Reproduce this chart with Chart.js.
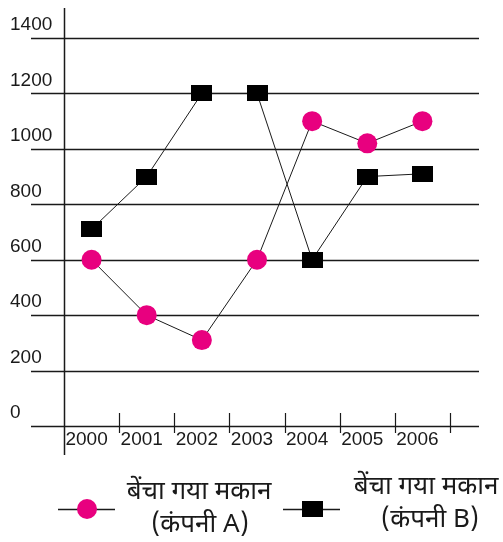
<!DOCTYPE html>
<html>
<head>
<meta charset="utf-8">
<script src="https://cdn.jsdelivr.net/npm/chart.js@4/dist/chart.umd.min.js"></script>
<style>
  html, body { margin: 0; padding: 0; background: #fff; }
  #wrap { width: 503px; height: 542px; }
</style>
</head>
<body>
<div id="wrap"><canvas id="myChart" width="503" height="542"></canvas></div>
<script>
const years = ['2000', '2001', '2002', '2003', '2004', '2005', '2006'];
const housesA = [600, 400, 310, 600, 1100, 1020, 1100];
const housesB = [710, 900, 1200, 1200, 600, 900, 910];
const labelA = ['बेंचा गया मकान', '(कंपनी A)'];
const labelB = ['बेंचा गया मकान', '(कंपनी B)'];
const yTicks = [0, 200, 400, 600, 800, 1000, 1200, 1400];

const PINK = 'rgb(232, 0, 127)';
const INK = '#1a1a1a';
const FONT = '"Liberation Sans", Arial, sans-serif';
const HINDI = '"Noto Sans Devanagari", "Noto Sans", "Lohit Devanagari", sans-serif';

// black marker for company B is a bit wider than tall
const boxMarker = document.createElement('canvas');
boxMarker.width = 21;
boxMarker.height = 16;
const bctx = boxMarker.getContext('2d');
bctx.fillStyle = '#000';
bctx.fillRect(0, 0, 21, 16);

// horizontal rules, axis line, year separators and the legend
const frame = {
    id: 'frame',
    beforeDatasetsDraw(chart) {
        const ctx = chart.ctx;
        const area = chart.chartArea;
        const x = chart.scales.x;
        const y = chart.scales.y;
        ctx.save();
        ctx.strokeStyle = INK;
        ctx.lineWidth = 1.5;
        yTicks.forEach(v => {
            const py = Math.round(y.getPixelForValue(v)) + 0.5;
            ctx.beginPath();
            ctx.moveTo(area.left - 33, py);
            ctx.lineTo(area.right + 29, py);
            ctx.stroke();
        });
        // vertical axis
        ctx.beginPath();
        ctx.moveTo(area.left + 0.5, area.top - 30);
        ctx.lineTo(area.left + 0.5, area.bottom + 29);
        ctx.stroke();
        // separators between years
        const step = x.getPixelForValue(1) - x.getPixelForValue(0);
        ctx.lineWidth = 1.2;
        for (let i = 1; i <= years.length; i++) {
            const px = Math.round(x.getPixelForValue(i) - step / 2) + 0.5;
            ctx.beginPath();
            ctx.moveTo(px, area.bottom - 13);
            ctx.lineTo(px, area.bottom + 7);
            ctx.stroke();
        }
        ctx.restore();
    },
    afterDraw(chart) {
        const ctx = chart.ctx;
        const sets = chart.data.datasets;
        const items = [
            { ds: sets[0], lx: 58, tx: [199, 200], ty: [494, 527] },
            { ds: sets[1], lx: 283, tx: [426, 430], ty: [489, 522] }
        ];
        ctx.save();
        items.forEach(it => {
            const ly = 509;
            ctx.strokeStyle = INK;
            ctx.lineWidth = 1.5;
            ctx.beginPath();
            ctx.moveTo(it.lx, ly + 0.5);
            ctx.lineTo(it.lx + 57, ly + 0.5);
            ctx.stroke();
            const cx = it.lx + 29;
            if (it.ds.pointStyle === 'circle') {
                ctx.fillStyle = it.ds.pointBackgroundColor;
                ctx.beginPath();
                ctx.arc(cx, ly, 10, 0, Math.PI * 2);
                ctx.fill();
            } else {
                ctx.drawImage(it.ds.pointStyle, cx - 10, ly - 8);
            }
            ctx.fillStyle = INK;
            ctx.font = '26px ' + HINDI;
            ctx.textAlign = 'center';
            ctx.textBaseline = 'middle';
            it.ds.label.forEach((t, i) => ctx.fillText(t, it.tx[i], it.ty[i]));
        });
        ctx.restore();
    }
};

const config = {
    type: 'line',
    data: {
        labels: years,
        datasets: [
            {
                label: labelA,
                data: housesA,
                borderColor: INK,
                borderWidth: 1,
                pointStyle: 'circle',
                pointRadius: 10,
                pointBackgroundColor: PINK,
                pointBorderColor: PINK,
                pointBorderWidth: 0,
                tension: 0,
            },
            {
                label: labelB,
                data: housesB,
                borderColor: INK,
                borderWidth: 1,
                pointStyle: boxMarker,
                pointRadius: 10,
                tension: 0,
            }
        ]
    },
    options: {
        responsive: false,
        animation: false,
        events: [],
        layout: {
            padding: { left: 10, top: 38, right: 53, bottom: 90 }
        },
        plugins: {
            legend: { display: false },
            tooltip: { enabled: false }
        },
        scales: {
            x: {
                offset: true,
                grid: { display: false },
                border: { display: false },
                afterFit(scale) { scale.height = 26; },
                ticks: {
                    color: INK,
                    font: { family: FONT, size: 19 },
                    padding: -6,
                    labelOffset: -5,
                    maxRotation: 0,
                    autoSkip: false,
                }
            },
            y: {
                min: 0,
                max: 1400,
                afterFit(scale) { scale.width = 54; },
                afterBuildTicks(scale) { scale.ticks = yTicks.map(v => ({ value: v })); },
                grid: { display: false },
                border: { display: false },
                ticks: {
                    color: INK,
                    font: { family: FONT, size: 19 },
                    crossAlign: 'far',
                    labelOffset: -13,
                    padding: 0,
                    callback: value => String(value),
                }
            }
        }
    },
    plugins: [frame]
};

const myChart = new Chart(document.getElementById('myChart'), config);
</script>
</body>
</html>
